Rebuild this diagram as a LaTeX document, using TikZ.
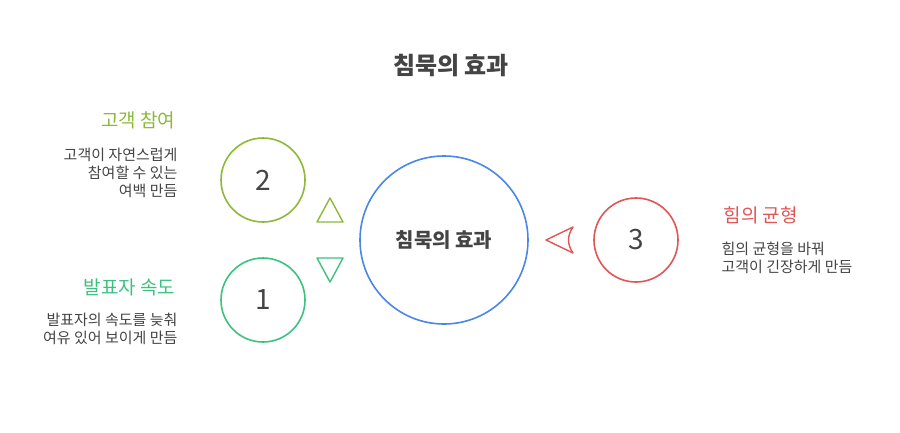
\documentclass[tikz,border=0pt]{standalone}
\usepackage{fontspec}
\setmainfont{Noto Sans CJK KR}
\definecolor{tblue}{HTML}{4A86E8}
\definecolor{tolive}{HTML}{8DB83A}
\definecolor{tgreen}{HTML}{3CC27F}
\definecolor{tred}{HTML}{E05555}
\definecolor{tgray}{HTML}{444444}
\begin{document}
\begin{tikzpicture}[x=1pt,y=-1pt,
  circ/.style={circle,draw,line width=1.6pt,inner sep=0pt},
  num/.style={font=\fontsize{28}{28}\selectfont,text=tgray},
  head/.style={font=\fontsize{19}{20}\selectfont},
  body/.style={font=\fontsize{15}{18}\selectfont,text=tgray}]
\useasboundingbox (0,0) rectangle (900,432);
\node[font=\fontsize{24}{26}\selectfont\bfseries,text=tgray] (title) at (451,66) {침묵의 효과};
\node[circ,draw=tblue,minimum size=168pt,font=\fontsize{20}{22}\selectfont\bfseries,text=tgray] (c) at (444,240) {침묵의 효과};
\node[circ,draw=tolive,minimum size=84pt,num] (c2) at (263,180) {2};
\node[circ,draw=tgreen,minimum size=84pt,num] (c1) at (263,300) {1};
\node[circ,draw=tred,minimum size=84pt,num] (c3) at (636,240) {3};
\draw[tolive,line width=1.4pt,line join=round] (317,222) -- (343,222) -- (330,198) -- cycle;
\draw[tgreen,line width=1.4pt,line join=round] (317,258) -- (343,258) -- (330,282) -- cycle;
\draw[tred,line width=1.4pt,line join=round] (546,240) -- (573,227) .. controls (567,236) and (567,244) .. (573,253) -- cycle;
\node[head,text=tolive,anchor=east] (h2) at (179,120) {고객 참여};
\node[body,anchor=north east,align=right] (b2) at (181,145) {고객이 자연스럽게\\참여할 수 있는\\여백 만듬};
\node[head,text=tgreen,anchor=east] (h1) at (179,287) {발표자 속도};
\node[body,anchor=north east,align=right] (b1) at (181,310) {발표자의 속도를 늦춰\\여유 있어 보이게 만듬};
\node[head,text=tred,anchor=west] (h3) at (720,215) {힘의 균형};
\node[body,anchor=north west,align=left] (b3) at (718,238) {힘의 균형을 바꿔\\고객이 긴장하게 만듬};
\end{tikzpicture}
\end{document}
